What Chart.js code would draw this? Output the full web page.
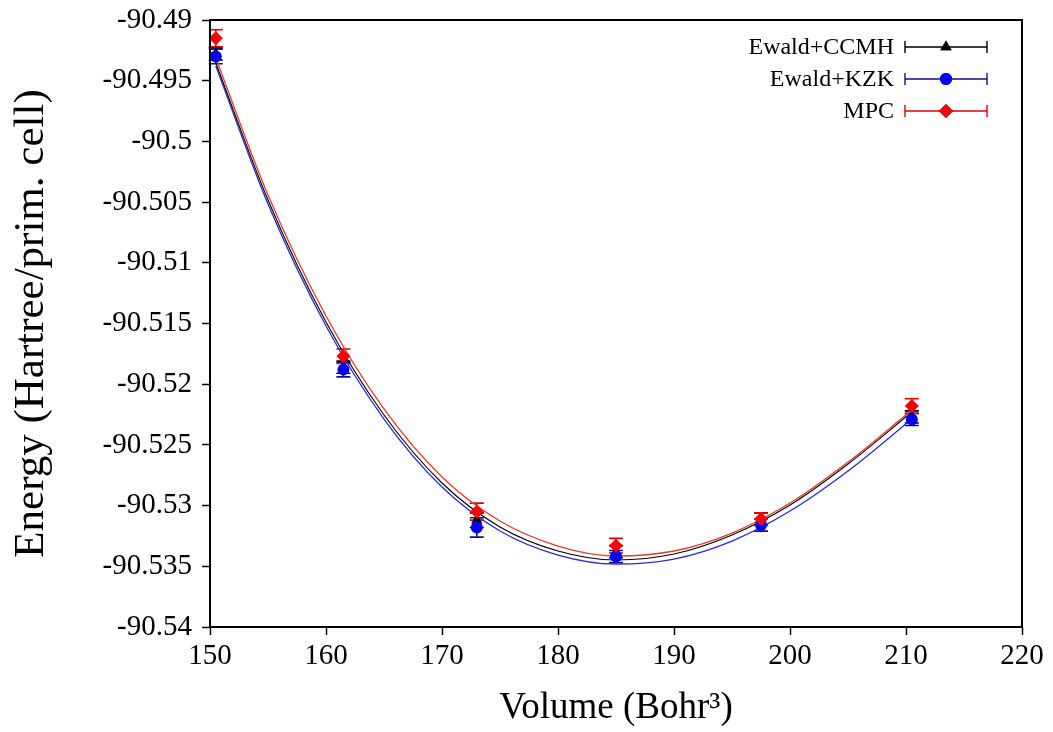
<!DOCTYPE html>
<html><head><meta charset="utf-8">
<script src="https://cdn.jsdelivr.net/npm/chart.js@4.4.1/dist/chart.umd.min.js"></script>
<style>html,body{margin:0;padding:0;background:#fff}#wrap{width:1053px;height:732px}</style>
</head><body><div id="wrap"><canvas id="c" width="1053" height="732"></canvas></div>
<script>
// ---- data ----
const volumes = [150.5, 161.5, 173, 185, 197.5, 210.5];
const ccmhEnergy = [-90.4928, -90.5186, -90.5312, -90.5338, -90.5311, -90.5227];
const kzkEnergy  = [-90.4930, -90.5188, -90.5318, -90.5342, -90.5316, -90.5229];
const mpcEnergy  = [-90.4915, -90.5177, -90.5305, -90.5333, -90.5311, -90.5218];
const ccmhError = [0.0005, 0.0005, 0.0006, 0.0005, 0.0005, 0.0005];
const kzkError  = [0.0006, 0.0006, 0.0008, 0.0005, 0.0005, 0.0005];
const mpcError  = [0.0007, 0.0006, 0.0007, 0.0006, 0.0005, 0.0006];

// fitted curves
const fitVolumes = [150.5, 155, 160, 165, 170, 175, 180, 185, 190, 195, 200, 205, 210.5];
const ccmhFit = [-90.49354, -90.50483, -90.51488, -90.52254, -90.52814, -90.53176, -90.53374, -90.53448, -90.53399, -90.53242, -90.52995, -90.52657, -90.52229];
const kzkFit  = [-90.49379, -90.50516, -90.51521, -90.52287, -90.52847, -90.53209, -90.53407, -90.53481, -90.53440, -90.53292, -90.53045, -90.52715, -90.52287];
const mpcFit  = [-90.49313, -90.50442, -90.51438, -90.52204, -90.52764, -90.53127, -90.53333, -90.53415, -90.53374, -90.53226, -90.52979, -90.52641, -90.52213];

const seriesNames = ['Ewald+CCMH', 'Ewald+KZK', 'MPC'];
const xTickValues = [150, 160, 170, 180, 190, 200, 210, 220];
const xTickLabels = ['150', '160', '170', '180', '190', '200', '210', '220'];
const yTickValues = [-90.49, -90.495, -90.5, -90.505, -90.51, -90.515, -90.52, -90.525, -90.53, -90.535, -90.54];
const yTickLabels = ['-90.49', '-90.495', '-90.5', '-90.505', '-90.51', '-90.515', '-90.52', '-90.525', '-90.53', '-90.535', '-90.54'];

const FONT = "'Liberation Serif', 'Times New Roman', serif";
const toPts = (xs, ys) => xs.map((x, i) => ({x: x, y: ys[i]}));

const colors = {
  ccmh: {mark: '#000000', line: '#000000', bar: '#000000'},
  kzk:  {mark: '#0000ff', line: '#2b2bd0', bar: '#10108a'},
  mpc:  {mark: '#ff0000', line: '#e83a30', bar: '#e00000'}
};

const pointSets = [
  {label: seriesNames[2], data: toPts(volumes, mpcEnergy), err: mpcError, pointStyle: 'rectRot', pointRadius: 7, c: colors.mpc},
  {label: seriesNames[1], data: toPts(volumes, kzkEnergy), err: kzkError, pointStyle: 'circle', pointRadius: 6, c: colors.kzk},
  {label: seriesNames[0], data: toPts(volumes, ccmhEnergy), err: ccmhError, pointStyle: 'triangle', pointRadius: 6.5, c: colors.ccmh}
];

const datasets = pointSets.map(s => ({
  type: 'scatter', label: s.label, data: s.data, errors: s.err, barColor: s.c.bar,
  showLine: false, pointStyle: s.pointStyle, pointRadius: s.pointRadius,
  backgroundColor: s.c.mark, borderColor: s.c.mark, borderWidth: 0, isPoints: true
}));
const curveOpts = {type: 'line', pointRadius: 0, cubicInterpolationMode: 'monotone', fill: false};
datasets.push(
  Object.assign({label: 'fit MPC', data: toPts(fitVolumes, mpcFit), borderColor: colors.mpc.line, borderWidth: 1.3}, curveOpts),
  Object.assign({label: 'fit CCMH', data: toPts(fitVolumes, ccmhFit), borderColor: colors.ccmh.line, borderWidth: 1.1}, curveOpts),
  Object.assign({label: 'fit KZK', data: toPts(fitVolumes, kzkFit), borderColor: colors.kzk.line, borderWidth: 1.3}, curveOpts)
);

const errorBars = {
  id: 'errorBars',
  beforeDatasetsDraw(chart) {
    const ctx = chart.ctx, xs = chart.scales.x, ys = chart.scales.y;
    ctx.save();
    for (let d = chart.data.datasets.length - 1; d >= 0; d--) {
      const ds = chart.data.datasets[d];
      if (!ds.isPoints) continue;
      ctx.strokeStyle = ds.barColor; ctx.lineWidth = 1.6;
      ds.data.forEach((p, i) => {
        const px = xs.getPixelForValue(p.x);
        const y1 = ys.getPixelForValue(p.y + ds.errors[i]);
        const y2 = ys.getPixelForValue(p.y - ds.errors[i]);
        ctx.beginPath();
        ctx.moveTo(px, y1); ctx.lineTo(px, y2);
        ctx.moveTo(px - 7, y1); ctx.lineTo(px + 7, y1);
        ctx.moveTo(px - 7, y2); ctx.lineTo(px + 7, y2);
        ctx.stroke();
      });
    }
    ctx.restore();
  }
};

const frame = {
  id: 'frame',
  afterDraw(chart) {
    const {left, top, right, bottom} = chart.chartArea, ctx = chart.ctx;
    ctx.save();
    ctx.strokeStyle = '#000'; ctx.lineWidth = 2;
    ctx.strokeRect(left, top, right - left, bottom - top);
    ctx.restore();
  }
};

const legendPlugin = {
  id: 'customLegend',
  afterDraw(chart) {
    const ctx = chart.ctx, {right, top} = chart.chartArea;
    const order = [2, 1, 0];
    ctx.save();
    ctx.font = '24px ' + FONT;
    ctx.textAlign = 'right'; ctx.textBaseline = 'middle';
    order.forEach((d, row) => {
      const ds = chart.data.datasets[d];
      const y = top + 27 + row * 32;
      ctx.fillStyle = '#000';
      ctx.fillText(ds.label, right - 128, y + 1);
      const x1 = right - 117, x2 = right - 35, xm = (x1 + x2) / 2;
      ctx.strokeStyle = ds.barColor; ctx.lineWidth = 1.4;
      ctx.beginPath();
      ctx.moveTo(x1, y); ctx.lineTo(x2, y);
      ctx.moveTo(x1, y - 6); ctx.lineTo(x1, y + 6);
      ctx.moveTo(x2, y - 6); ctx.lineTo(x2, y + 6);
      ctx.stroke();
      Chart.helpers.drawPoint(ctx, {pointStyle: ds.pointStyle, radius: ds.pointRadius, borderWidth: 0, rotation: 0}, xm, y);
      ctx.fillStyle = ds.backgroundColor;
      ctx.fill();
    });
    ctx.restore();
  }
};

new Chart(document.getElementById('c'), {
  data: {datasets: datasets},
  options: {
    responsive: false, animation: false, devicePixelRatio: 1,
    layout: {padding: {top: 20, right: 31, left: 0, bottom: 0}},
    plugins: {legend: {display: false}, tooltip: {enabled: false}},
    scales: {
      x: {
        type: 'linear', position: 'bottom', min: 150, max: 220,
        afterBuildTicks: s => { s.ticks = xTickValues.map(v => ({value: v})); },
        afterFit: s => { s.height = 105; s.paddingLeft = 0; s.paddingRight = 0; },
        ticks: {callback: (v, i) => xTickLabels[i], font: {family: FONT, size: 29}, color: '#000', padding: 4, maxRotation: 0},
        grid: {drawOnChartArea: false, drawTicks: true, tickLength: 8, tickColor: '#000', tickWidth: 1.5},
        border: {display: false},
        title: {display: true, text: 'Volume (Bohr³)', font: {family: FONT, size: 37}, color: '#000', padding: {top: 2, bottom: 2}}
      },
      y: {
        type: 'linear', position: 'left', min: -90.54, max: -90.49,
        afterBuildTicks: s => { s.ticks = yTickValues.map(v => ({value: v})); },
        afterFit: s => { s.width = 210; s.paddingTop = 0; s.paddingBottom = 0; },
        ticks: {callback: (v, i) => yTickLabels[i], font: {family: FONT, size: 29}, color: '#000', padding: 10},
        grid: {drawOnChartArea: false, drawTicks: true, tickLength: 8, tickColor: '#000', tickWidth: 1.5},
        border: {display: false},
        title: {display: true, text: 'Energy (Hartree/prim. cell)', font: {family: FONT, size: 43}, color: '#000', padding: {top: 6, bottom: 6}}
      }
    }
  },
  plugins: [errorBars, frame, legendPlugin]
});
</script></body></html>
